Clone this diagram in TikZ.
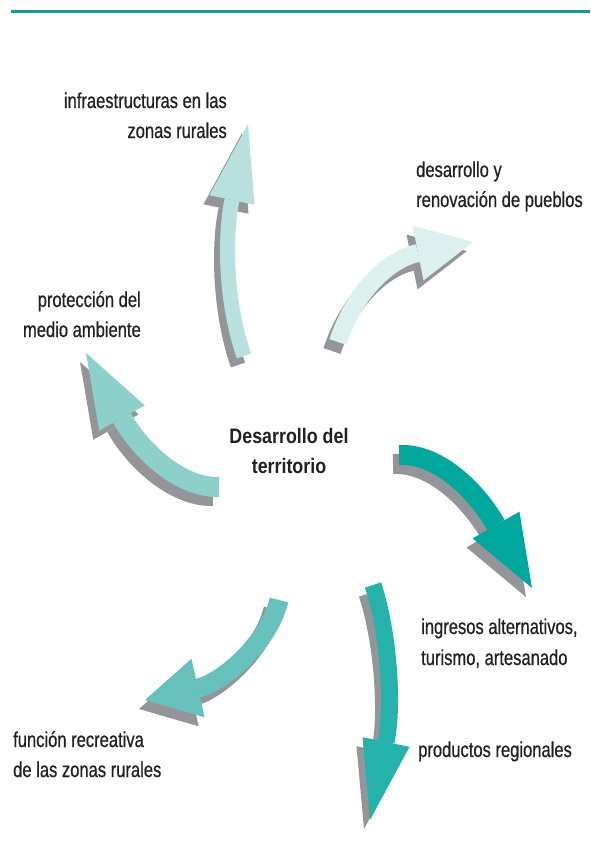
\documentclass[tikz,border=0pt]{standalone}
\usepackage{fontspec}
\setmainfont{Liberation Sans}[FakeStretch=0.77, FakeBold=0.6]
\newfontfamily\titlefont{Liberation Sans}[FakeStretch=0.85]
\usetikzlibrary{calc}
\definecolor{shadowgray}{HTML}{939598}
\definecolor{topteal}{HTML}{119E92}
\definecolor{arrA}{HTML}{B8E0DF}
\definecolor{arrB}{HTML}{DDF0F0}
\definecolor{arrC}{HTML}{8DCFCB}
\definecolor{arrD}{HTML}{00A79D}
\definecolor{arrE}{HTML}{25B2AB}
\definecolor{arrF}{HTML}{66C1BC}
\definecolor{txt}{HTML}{231F20}
\tikzset{
  lbl/.style={font=\fontsize{21.5}{30}\selectfont, text=txt, inner sep=0pt},
  ttl/.style={font=\titlefont\bfseries\fontsize{21}{30}\selectfont, text=txt, inner sep=0pt},
  topline/.style={draw=topteal, line width=3pt}
}
% #1 colour, #2 start, #3 first control, #4 head base, #5 tip, #6 shaft width, #7 head half width
\newcommand{\shadedarrow}[7]{%
  \foreach \dx/\dy/\col in {-6/9/shadowgray, 0/0/#1} {
    \begin{scope}[shift={(\dx,\dy)}]
      \draw[draw=\col, line width=#6pt] #2 .. controls #3 and ($#4!-0.5!#5$) .. #4;
      \fill[fill=\col] ($#4!#7pt!90:#5$) -- #5 -- ($#4!#7pt!-90:#5$) -- cycle;
    \end{scope}
  }%
}
\begin{document}
\begin{tikzpicture}[x=1pt,y=-1pt]
\useasboundingbox (0,0) rectangle (590,854);
\coordinate (lineL) at (11,11.5);
\coordinate (lineR) at (590,11.5);
\draw[topline] (lineL) -- (lineR);

% arrows
\shadedarrow{arrA}{(244,356)}{(226,305)}{(232,200)}{(248,124)}{15}{23}
\shadedarrow{arrB}{(338,342)}{(355,290)}{(418,253)}{(473,242)}{18}{28}
\shadedarrow{arrC}{(219,487)}{(180,488)}{(122,418)}{(86,353)}{20}{26}
\shadedarrow{arrD}{(399,455)}{(440,453)}{(496,525)}{(532,588)}{20}{27}
\shadedarrow{arrE}{(373,585)}{(388,630)}{(386,742)}{(370,820)}{17}{24}
\shadedarrow{arrF}{(279,600)}{(270,640)}{(198,688)}{(145,700)}{19}{30}

% labels
\node[lbl, anchor=base east] (infra1) at (227,108) {infraestructuras en las};
\node[lbl, anchor=base east] (infra2) at (227,138) {zonas rurales};
\node[lbl, anchor=base west] (desa1) at (416,177) {desarrollo y};
\node[lbl, anchor=base west] (desa2) at (416,207) {renovación de pueblos};
\node[lbl, anchor=base east] (prot1) at (141,307) {protección del};
\node[lbl, anchor=base east] (prot2) at (141,337) {medio ambiente};
\node[ttl, anchor=base] (ctr1) at (289,443) {Desarrollo del};
\node[ttl, anchor=base] (ctr2) at (289,473) {territorio};
\node[lbl, anchor=base west] (ingr1) at (421,634) {ingresos alternativos,};
\node[lbl, anchor=base west] (ingr2) at (421,665) {turismo, artesanado};
\node[lbl, anchor=base west] (func1) at (13,747) {función recreativa};
\node[lbl, anchor=base west] (func2) at (13,777) {de las zonas rurales};
\node[lbl, anchor=base west] (prod) at (418,757) {productos regionales};
\end{tikzpicture}
\end{document}
